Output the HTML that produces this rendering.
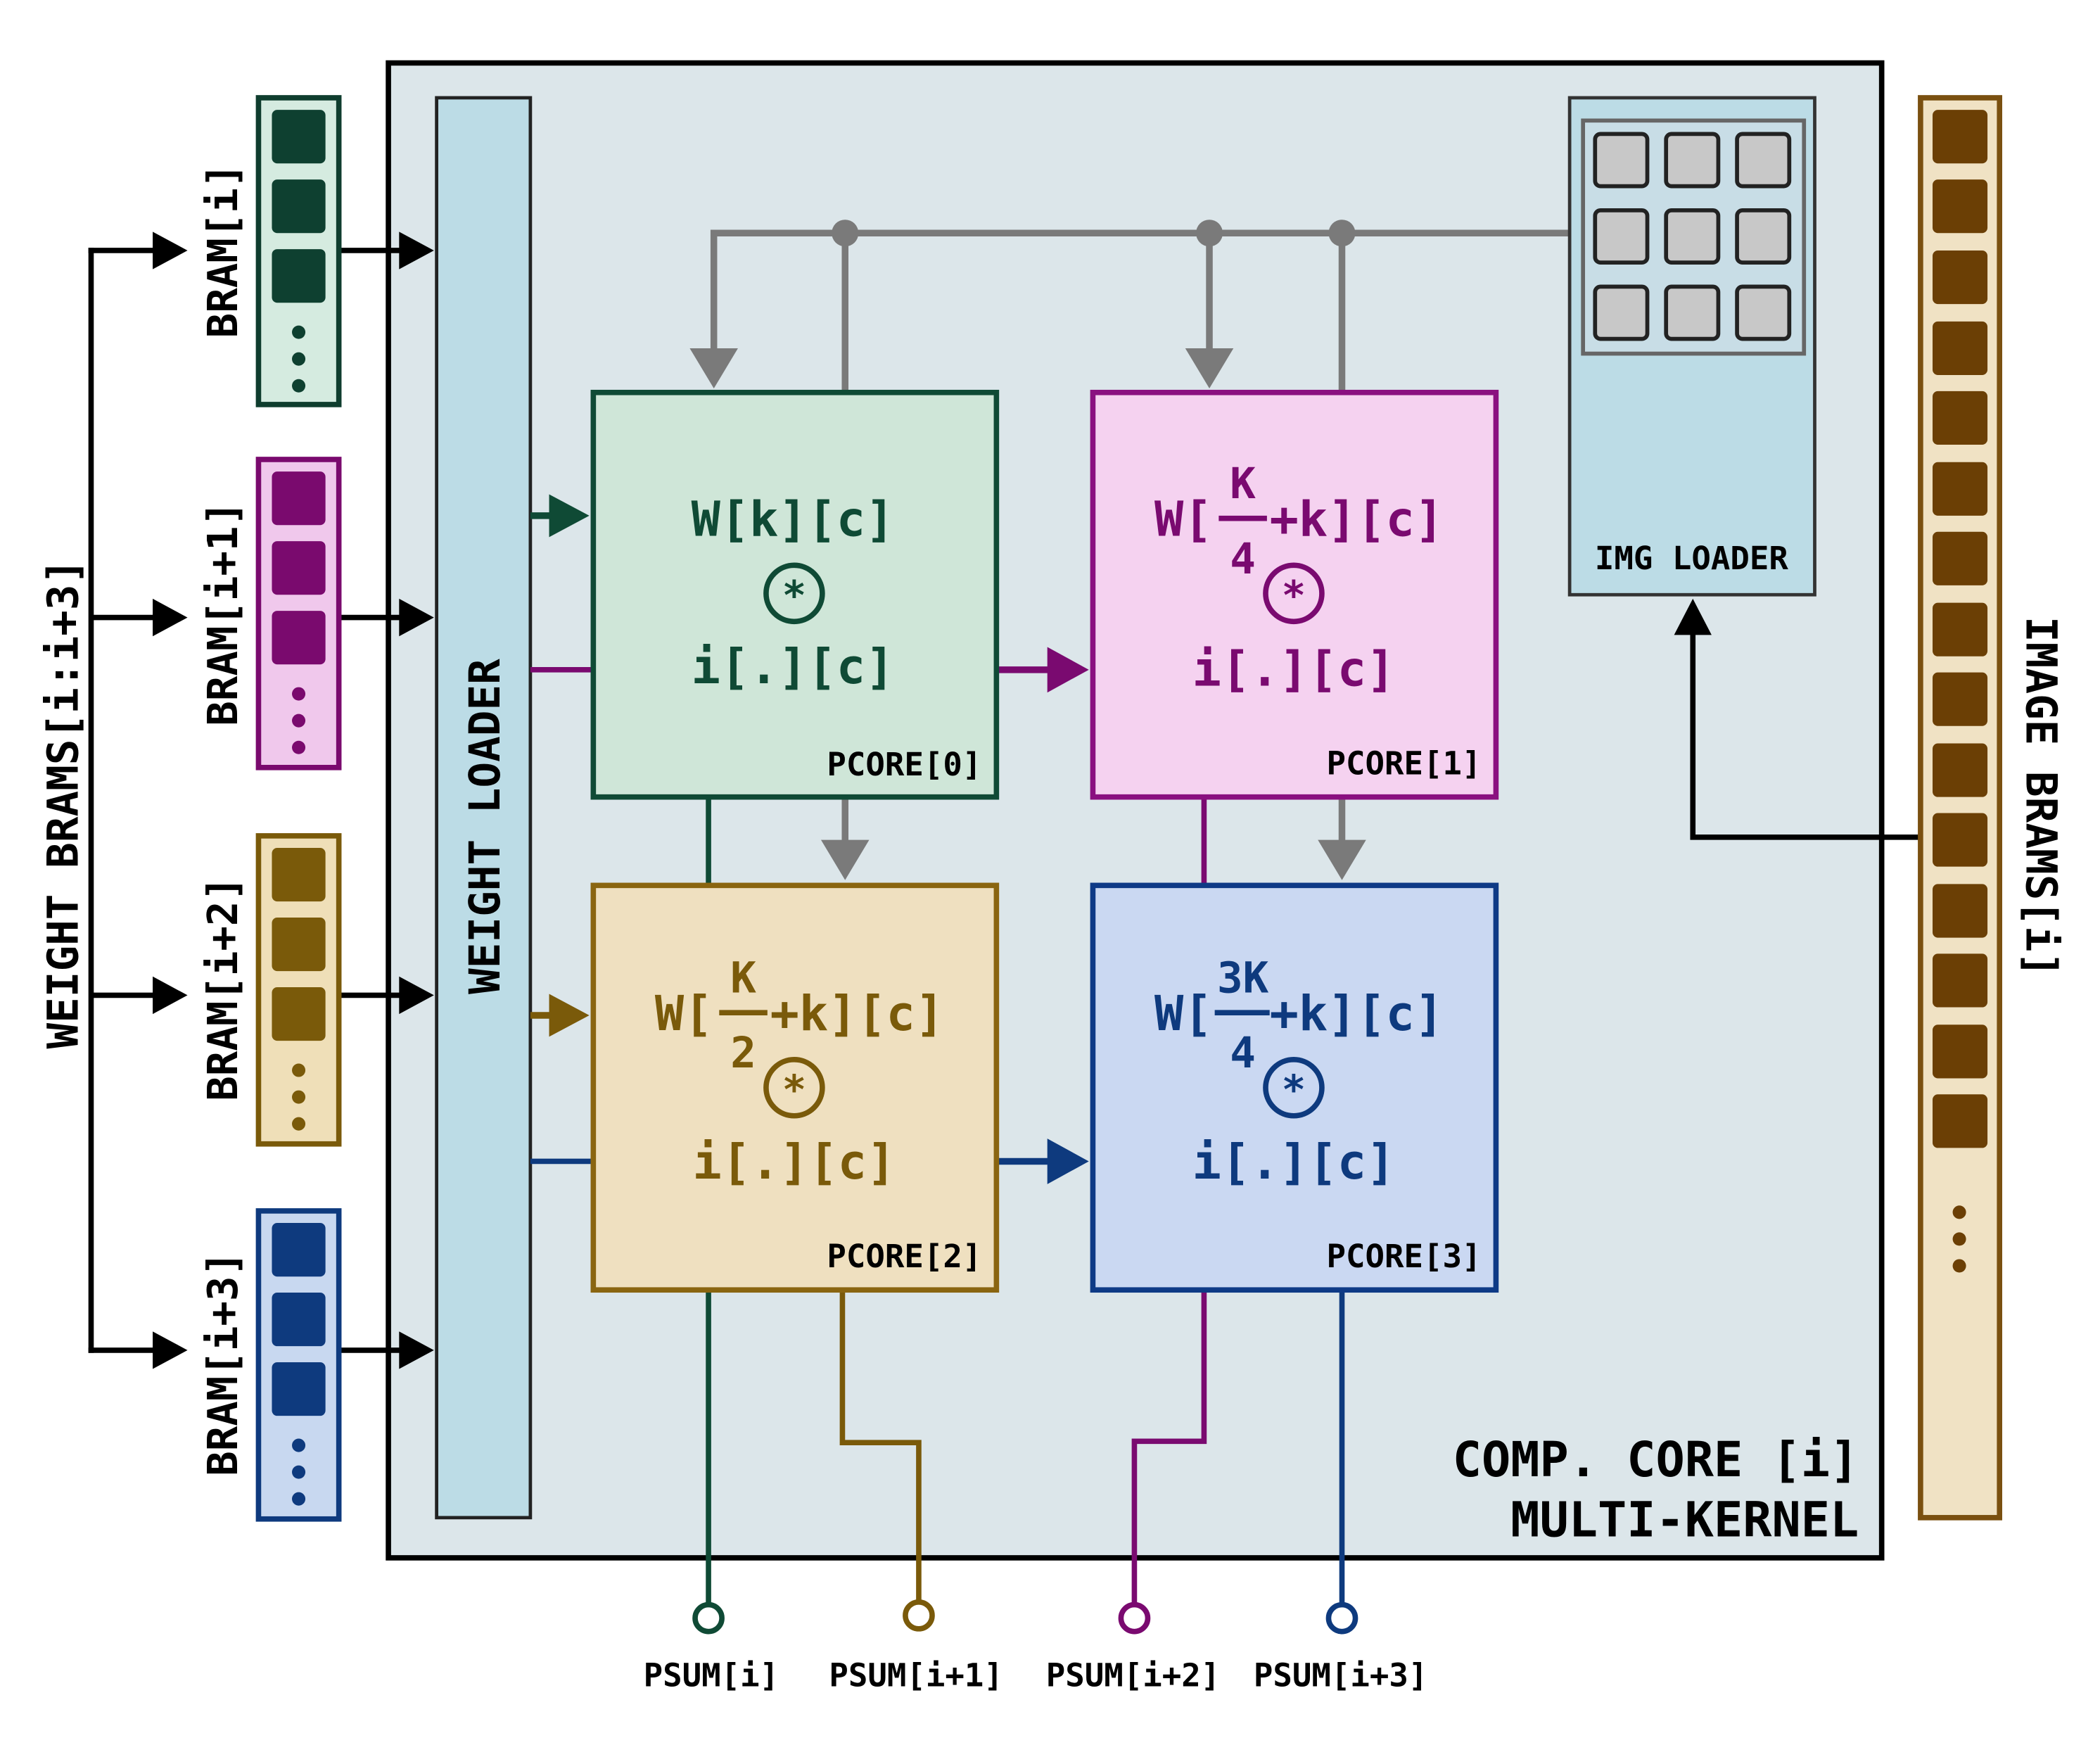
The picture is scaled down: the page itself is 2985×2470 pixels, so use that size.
<!DOCTYPE html>
<html><head><meta charset="utf-8"><style>
html,body{margin:0;padding:0;background:#fff;}
svg{display:block;}
text{font-family:"DejaVu Sans Mono","Liberation Mono",monospace;font-weight:bold;}
</style></head><body>
<svg width="2985" height="2470" viewBox="0 0 1568 1297.5" xmlns="http://www.w3.org/2000/svg">
<rect width="1568" height="1297.5" fill="#fff"/>
<rect x="290" y="47" width="1115" height="1116" fill="#dce6ea" stroke="#000" stroke-width="4"/>

<g stroke="#000" stroke-width="4" fill="none">
<line x1="68" y1="185" x2="68" y2="1010"/>
<line x1="66" y1="187" x2="118" y2="187"/>
<line x1="68" y1="461" x2="118" y2="461"/>
<line x1="68" y1="743" x2="118" y2="743"/>
<line x1="66" y1="1008" x2="118" y2="1008"/>
<line x1="253" y1="187" x2="302" y2="187"/>
<line x1="253" y1="461" x2="302" y2="461"/>
<line x1="253" y1="743" x2="302" y2="743"/>
<line x1="253" y1="1008" x2="302" y2="1008"/>
</g>
<g fill="#000">
<path d="M114,173 L140,187 L114,201z"/><path d="M114,447 L140,461 L114,475z"/>
<path d="M114,729 L140,743 L114,757z"/><path d="M114,994 L140,1008 L114,1022z"/>
<path d="M298,173 L324,187 L298,201z"/><path d="M298,447 L324,461 L298,475z"/>
<path d="M298,729 L324,743 L298,757z"/><path d="M298,994 L324,1008 L298,1022z"/>
</g>
<text transform="translate(58,600) rotate(-90)" font-size="32" text-anchor="middle" fill="#000">WEIGHT BRAMS[i:i+3]</text>

<g>
<rect x="193" y="73" width="60" height="229" fill="#d5ebe0" stroke="#0f3d2e" stroke-width="4"/>
<rect x="203" y="82" width="40" height="40" rx="4" fill="#0e4030"/><rect x="203" y="134" width="40" height="40" rx="4" fill="#0e4030"/><rect x="203" y="186" width="40" height="40" rx="4" fill="#0e4030"/>
<circle cx="223" cy="248" r="5" fill="#0e4030"/><circle cx="223" cy="268" r="5" fill="#0e4030"/><circle cx="223" cy="288" r="5" fill="#0e4030"/>
<rect x="193" y="343" width="60" height="230" fill="#f0c8ec" stroke="#7a0a6e" stroke-width="4"/>
<rect x="203" y="352" width="40" height="40" rx="4" fill="#7a0a6e"/><rect x="203" y="404" width="40" height="40" rx="4" fill="#7a0a6e"/><rect x="203" y="456" width="40" height="40" rx="4" fill="#7a0a6e"/>
<circle cx="223" cy="518" r="5" fill="#7a0a6e"/><circle cx="223" cy="538" r="5" fill="#7a0a6e"/><circle cx="223" cy="558" r="5" fill="#7a0a6e"/>
<rect x="193" y="624" width="60" height="230" fill="#efdfb8" stroke="#7a5a0a" stroke-width="4"/>
<rect x="203" y="633" width="40" height="40" rx="4" fill="#7a5a0a"/><rect x="203" y="685" width="40" height="40" rx="4" fill="#7a5a0a"/><rect x="203" y="737" width="40" height="40" rx="4" fill="#7a5a0a"/>
<circle cx="223" cy="799" r="5" fill="#7a5a0a"/><circle cx="223" cy="819" r="5" fill="#7a5a0a"/><circle cx="223" cy="839" r="5" fill="#7a5a0a"/>
<rect x="193" y="904" width="60" height="230" fill="#c8d8f0" stroke="#0e3a7e" stroke-width="4"/>
<rect x="203" y="913" width="40" height="40" rx="4" fill="#0e3a7e"/><rect x="203" y="965" width="40" height="40" rx="4" fill="#0e3a7e"/><rect x="203" y="1017" width="40" height="40" rx="4" fill="#0e3a7e"/>
<circle cx="223" cy="1079" r="5" fill="#0e3a7e"/><circle cx="223" cy="1099" r="5" fill="#0e3a7e"/><circle cx="223" cy="1119" r="5" fill="#0e3a7e"/>
</g>
<g font-size="31" text-anchor="middle" fill="#000">
<text transform="translate(177,187) rotate(-90)">BRAM[i]</text>
<text transform="translate(177,458) rotate(-90)">BRAM[i+1]</text>
<text transform="translate(177,738) rotate(-90)">BRAM[i+2]</text>
<text transform="translate(177,1018) rotate(-90)">BRAM[i+3]</text>
</g>

<rect x="326" y="73" width="70" height="1060" fill="#bcdce6" stroke="#222" stroke-width="2.5"/>
<text transform="translate(373,617) rotate(-90)" font-size="32" text-anchor="middle" fill="#000">WEIGHT LOADER</text>

<g stroke="#7a7a7a" stroke-width="5" fill="none">
<polyline points="533,272 533,174 1182,174"/>
<line x1="631" y1="174" x2="631" y2="293"/>
<line x1="903" y1="174" x2="903" y2="272"/>
<line x1="1002" y1="174" x2="1002" y2="293"/>
<line x1="631" y1="595" x2="631" y2="640"/>
<line x1="1002" y1="595" x2="1002" y2="640"/>
</g>
<g fill="#7a7a7a">
<circle cx="631" cy="174" r="10"/><circle cx="903" cy="174" r="10"/><circle cx="1002" cy="174" r="10"/>
<path d="M515,260 L551,260 L533,290z"/><path d="M885,260 L921,260 L903,290z"/>
<path d="M613,627 L649,627 L631,657z"/><path d="M984,627 L1020,627 L1002,657z"/>
</g>

<g fill="none" stroke-width="4">
<line x1="529" y1="595" x2="529" y2="1197" stroke="#0f4a35"/>
<polyline points="629,963 629,1077 686,1077 686,1195" stroke="#7a5a0a"/>
<line x1="899" y1="595" x2="899" y2="661" stroke="#7a0a70"/>
<polyline points="899,963 899,1076 847,1076 847,1197" stroke="#7a0a70"/>
<line x1="1002" y1="963" x2="1002" y2="1197" stroke="#0e3a7e"/>
<line x1="396" y1="385" x2="415" y2="385" stroke="#0f4a35" stroke-width="5"/>
<line x1="396" y1="500" x2="443" y2="500" stroke="#7a0a70"/>
<line x1="744" y1="500" x2="790" y2="500" stroke="#7a0a70" stroke-width="5"/>
<line x1="396" y1="758" x2="415" y2="758" stroke="#7a5a0a" stroke-width="5"/>
<line x1="396" y1="867" x2="443" y2="867" stroke="#0e3a7e"/>
<line x1="744" y1="867" x2="790" y2="867" stroke="#0e3a7e" stroke-width="5"/>
</g>
<path d="M410,369 L440,385 L410,401z" fill="#0f4a35"/>
<path d="M410,742 L440,758 L410,774z" fill="#7a5a0a"/>
<path d="M782,483 L813,500 L782,517z" fill="#7a0a70"/>
<path d="M782,850 L813,867 L782,884z" fill="#0e3a7e"/>
<g fill="#fff" stroke-width="4">
<circle cx="529" cy="1208" r="10" stroke="#0f4a35"/>
<circle cx="686" cy="1206" r="10" stroke="#7a5a0a"/>
<circle cx="847" cy="1208" r="10" stroke="#7a0a70"/>
<circle cx="1002" cy="1208" r="10" stroke="#0e3a7e"/>
</g>
<g font-size="24" text-anchor="middle" fill="#000">
<text x="531" y="1259">PSUM[i]</text><text x="684" y="1259">PSUM[i+1]</text>
<text x="846" y="1259">PSUM[i+2]</text><text x="1001" y="1259">PSUM[i+3]</text>
</g>

<rect x="443" y="293" width="301" height="302" fill="#cfe6d8" stroke="#0f4a35" stroke-width="4"/>
<rect x="816" y="293" width="301" height="302" fill="#f5d2f0" stroke="#8a1080" stroke-width="4"/>
<rect x="443" y="661" width="301" height="302" fill="#efe0c0" stroke="#8a6510" stroke-width="4"/>
<rect x="816" y="661" width="301" height="302" fill="#cad8f2" stroke="#0e3a86" stroke-width="4"/>

<g fill="#0f4a35">
<text x="592" y="400" font-size="36" text-anchor="middle">W[k][c]</text>
<circle cx="593" cy="443" r="21" fill="none" stroke="#0f4a35" stroke-width="4"/>
<text x="593" y="455" font-size="30" text-anchor="middle">*</text>
<text x="592" y="510" font-size="36" text-anchor="middle">i[.][c]</text>
</g>
<text x="733" y="579" font-size="24" text-anchor="end" fill="#000">PCORE[0]</text>
<g fill="#7a0a70">
<text x="862" y="400" font-size="36">W[</text>
<line x1="910" y1="387" x2="946" y2="387" stroke="#7a0a70" stroke-width="4"/>
<text x="928" y="372" font-size="32" text-anchor="middle">K</text>
<text x="928" y="428" font-size="32" text-anchor="middle">4</text>
<text x="948" y="400" font-size="36">+k][c]</text>
<circle cx="966" cy="443" r="21" fill="none" stroke="#7a0a70" stroke-width="4"/>
<text x="966" y="455" font-size="30" text-anchor="middle">*</text>
<text x="966" y="512" font-size="36" text-anchor="middle">i[.][c]</text>
</g>
<text x="1106" y="578" font-size="24" text-anchor="end" fill="#000">PCORE[1]</text>
<g fill="#7a5a0a">
<text x="489" y="769" font-size="36">W[</text>
<line x1="537" y1="756" x2="573" y2="756" stroke="#7a5a0a" stroke-width="4"/>
<text x="555" y="741" font-size="32" text-anchor="middle">K</text>
<text x="555" y="797" font-size="32" text-anchor="middle">2</text>
<text x="575" y="769" font-size="36">+k][c]</text>
<circle cx="593" cy="812" r="21" fill="none" stroke="#7a5a0a" stroke-width="4"/>
<text x="593" y="824" font-size="30" text-anchor="middle">*</text>
<text x="593" y="880" font-size="36" text-anchor="middle">i[.][c]</text>
</g>
<text x="733" y="946" font-size="24" text-anchor="end" fill="#000">PCORE[2]</text>
<g fill="#0e3a7e">
<text x="862" y="769" font-size="36">W[</text>
<line x1="907" y1="756" x2="948" y2="756" stroke="#0e3a7e" stroke-width="4"/>
<text x="928" y="741" font-size="32" text-anchor="middle">3K</text>
<text x="928" y="797" font-size="32" text-anchor="middle">4</text>
<text x="948" y="769" font-size="36">+k][c]</text>
<circle cx="966" cy="812" r="21" fill="none" stroke="#0e3a7e" stroke-width="4"/>
<text x="966" y="824" font-size="30" text-anchor="middle">*</text>
<text x="966" y="880" font-size="36" text-anchor="middle">i[.][c]</text>
</g>
<text x="1106" y="946" font-size="24" text-anchor="end" fill="#000">PCORE[3]</text>

<rect x="1172" y="73" width="183" height="371" fill="#bcdce6" stroke="#333" stroke-width="2.5"/>
<rect x="1182" y="90" width="165" height="174" fill="#c8dde6" stroke="#666" stroke-width="3"/>
<g fill="#c8c8c8" stroke="#222" stroke-width="3">
<rect x="1191" y="100" width="39" height="39" rx="4"/><rect x="1244" y="100" width="39" height="39" rx="4"/><rect x="1297" y="100" width="39" height="39" rx="4"/>
<rect x="1191" y="157" width="39" height="39" rx="4"/><rect x="1244" y="157" width="39" height="39" rx="4"/><rect x="1297" y="157" width="39" height="39" rx="4"/>
<rect x="1191" y="214" width="39" height="39" rx="4"/><rect x="1244" y="214" width="39" height="39" rx="4"/><rect x="1297" y="214" width="39" height="39" rx="4"/>
</g>
<text x="1263" y="425" font-size="24" text-anchor="middle" fill="#000">IMG LOADER</text>
<polyline points="1434,625 1264,625 1264,470" fill="none" stroke="#000" stroke-width="4"/>
<path d="M1250,474 L1264,447 L1278,474z" fill="#000"/>

<rect x="1434" y="73" width="59" height="1060" fill="#f0e2c4" stroke="#7a5010" stroke-width="4"/>
<g fill="#6b3f05">
<rect x="1443" y="82" width="41" height="40" rx="4"/><rect x="1443" y="134" width="41" height="40" rx="4"/><rect x="1443" y="187" width="41" height="40" rx="4"/>
<rect x="1443" y="240" width="41" height="40" rx="4"/><rect x="1443" y="292" width="41" height="40" rx="4"/><rect x="1443" y="345" width="41" height="40" rx="4"/>
<rect x="1443" y="397" width="41" height="40" rx="4"/><rect x="1443" y="450" width="41" height="40" rx="4"/><rect x="1443" y="502" width="41" height="40" rx="4"/>
<rect x="1443" y="555" width="41" height="40" rx="4"/><rect x="1443" y="607" width="41" height="40" rx="4"/><rect x="1443" y="660" width="41" height="40" rx="4"/>
<rect x="1443" y="712" width="41" height="40" rx="4"/><rect x="1443" y="765" width="41" height="40" rx="4"/><rect x="1443" y="817" width="41" height="40" rx="4"/>
<circle cx="1463" cy="905" r="5"/><circle cx="1463" cy="925" r="5"/><circle cx="1463" cy="945" r="5"/>
</g>
<text transform="translate(1513,595) rotate(90)" font-size="32" text-anchor="middle" fill="#000">IMAGE BRAMS[i]</text>

<g font-size="36" text-anchor="end" fill="#000">
<text x="1388" y="1102">COMP. CORE [i]</text>
<text x="1388" y="1147">MULTI-KERNEL</text>
</g>
</svg>
</body></html>
